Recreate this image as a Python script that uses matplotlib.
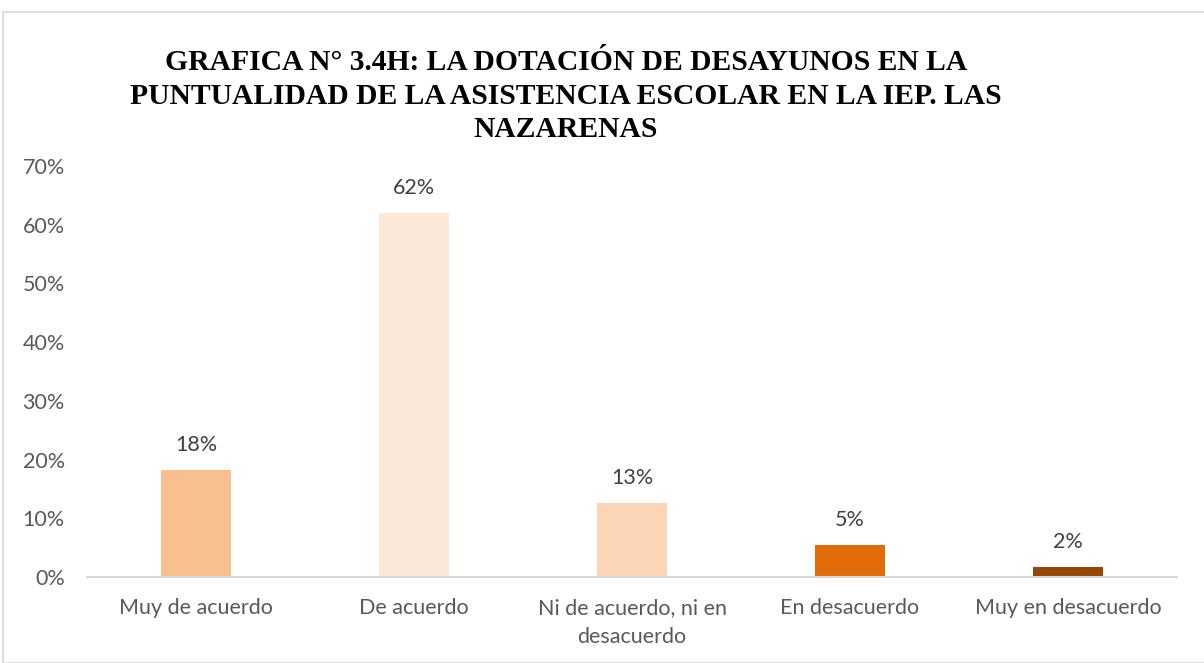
import matplotlib.pyplot as plt
from matplotlib.patches import Rectangle

categorias = ['Muy de acuerdo', 'De acuerdo', 'Ni de acuerdo, ni en\ndesacuerdo',
              'En desacuerdo', 'Muy en desacuerdo']
valores = [0.182, 0.620, 0.126, 0.055, 0.017]
etiquetas = ['18%', '62%', '13%', '5%', '2%']
colores = ['#f9c08f', '#fce8d9', '#fbd5b5', '#e36c0a', '#974806']
ticks_y = [0, 0.1, 0.2, 0.3, 0.4, 0.5, 0.6, 0.7]

W, H = 1204, 663
fig = plt.figure(figsize=(W / 100, H / 100), dpi=100)

# borde del gráfico
fig.patches.append(Rectangle((3 / W, 0), 1, 1 - 12 / H, transform=fig.transFigure,
                             fill=False, edgecolor='#d9d9d9', linewidth=1.2))

ax = fig.add_axes([87 / W, 1 - 577 / H, (1177 - 87) / W, (577 - 166) / H])
x = range(len(categorias))
ax.bar(x, valores, width=0.32, color=colores)
ax.set_xlim(-0.5, len(categorias) - 0.5)
ax.set_ylim(0, 0.7)

fuente = 'Lato'
tam = 15.5
for xi, v, t in zip(x, valores, etiquetas):
    ax.annotate(t, (xi, v), xytext=(0, 18), textcoords='offset points',
                ha='center', va='center', fontsize=tam, color='#404040', family=fuente)

ax.set_yticks(ticks_y)
ax.set_yticklabels([f'{int(round(t * 100))}%' for t in ticks_y], family=fuente,
                   fontsize=tam, color='#595959')
ax.set_xticks(list(x))
ax.set_xticklabels(categorias, family=fuente, fontsize=tam, color='#595959',
                   linespacing=1.55)
ax.tick_params(length=0)
ax.tick_params(axis='y', pad=16)
ax.tick_params(axis='x', pad=15)
for s in ['top', 'right', 'left']:
    ax.spines[s].set_visible(False)
ax.spines['bottom'].set_color('#d9d9d9')
ax.spines['bottom'].set_linewidth(1.5)

fig.text(566 / W, 1 - 96 / H,
         'GRAFICA N° 3.4H: LA DOTACIÓN DE DESAYUNOS EN LA\n'
         'PUNTUALIDAD DE LA ASISTENCIA ESCOLAR EN LA IEP. LAS\nNAZARENAS',
         ha='center', va='center', family='Liberation Serif', fontweight='bold',
         fontsize=21.3, linespacing=1.33, color='black')

fig.savefig('out.png', dpi=100)
